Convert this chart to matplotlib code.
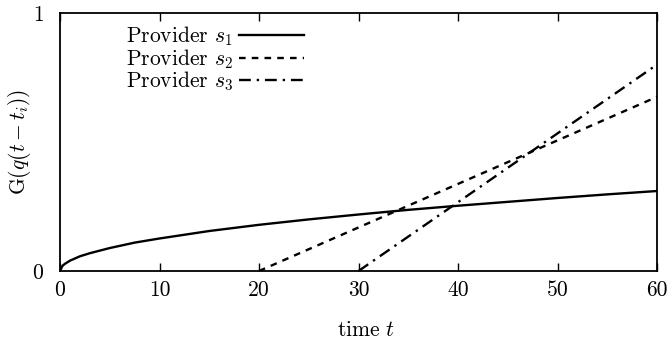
import matplotlib
matplotlib.use("Agg")
import matplotlib.pyplot as plt

plt.rcParams['font.family'] = 'serif'
plt.rcParams['font.serif'] = ['cmr10', 'DejaVu Serif']
plt.rcParams['mathtext.fontset'] = 'cm'
plt.rcParams['axes.formatter.use_mathtext'] = True

# Provider s1 (concave curve)
t1 = [0, 0.25, 0.5, 1, 2, 3, 5, 7.5, 10, 15, 20, 25, 30, 35, 40, 45, 50, 55, 60]
g1 = [0, 0.02, 0.028, 0.04, 0.057, 0.069, 0.089, 0.11, 0.126, 0.155, 0.179,
      0.2, 0.219, 0.237, 0.253, 0.268, 0.283, 0.297, 0.31]
# Provider s2 (linear from t=20)
t2 = [20, 60]
g2 = [0, 0.675]
# Provider s3 (linear from t=30)
t3 = [30, 60]
g3 = [0, 0.80]

labels = [r'Provider $s_1$', r'Provider $s_2$', r'Provider $s_3$']
xticks = [0, 10, 20, 30, 40, 50, 60]
yticks = [0, 1]

FS = 15.5

fig = plt.figure(figsize=(6.71, 3.4), dpi=100)
ax = fig.add_axes([60/671, 1 - 271/340, 597/671, 258/340])

ax.plot(t1, g1, color='black', lw=1.7, ls='-', label=labels[0])
ax.plot(t2, g2, color='black', lw=1.7, ls=(0, (2.8, 2.6)), label=labels[1])
ax.plot(t3, g3, color='black', lw=1.7, ls=(0, (5, 2.5, 1, 2.5)), label=labels[2])

ax.set_xlim(0, 60)
ax.set_ylim(0, 1)
ax.set_xticks(xticks)
ax.set_yticks(yticks)
ax.set_xticklabels([str(v) for v in xticks])
ax.set_yticklabels([str(v) for v in yticks])
ax.tick_params(axis='x', direction='in', top=True, length=6, width=1, labelsize=FS, pad=7)
ax.tick_params(axis='y', length=0, labelsize=FS, pad=12)
for s in ax.spines.values():
    s.set_linewidth(1.3)

ax.set_xlabel(r'time $t$', fontsize=FS)
ax.xaxis.set_label_coords(0.513, -0.19)
ax.set_ylabel(r'G$(q(t-t_i))$', fontsize=FS)
ax.yaxis.set_label_coords(-0.045, 0.5)

leg = ax.legend(loc='upper left', bbox_to_anchor=(0.11, 0.955), frameon=False,
                fontsize=FS, markerfirst=False, handlelength=3.0,
                labelspacing=-0.05, handletextpad=0.3, borderaxespad=0.0,
                borderpad=0.0)

fig.savefig('out.png', dpi=100)
